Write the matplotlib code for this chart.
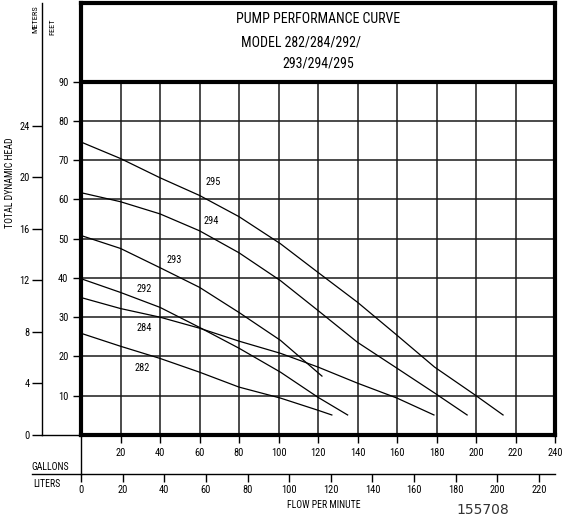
import matplotlib
matplotlib.use("Agg")
import matplotlib.pyplot as plt
from matplotlib import font_manager

# the original uses a condensed sans; take whichever narrow face is installed
narrow = [f for f in font_manager.fontManager.ttflist
          if ('Narrow' in f.name or 'Condensed' in f.name or f.stretch in ('condensed', 'semi-condensed'))
          and f.style == 'normal' and f.weight in (400, 'normal', 'regular')]
pref = ['Roboto Condensed', 'Liberation Sans Narrow', 'DejaVu Sans Condensed', 'DejaVu Sans']
narrow.sort(key=lambda f: pref.index(f.name) if f.name in pref else 99)
if narrow:
    plt.rcParams['font.family'] = [narrow[0].name, 'DejaVu Sans']
    plt.rcParams['font.stretch'] = narrow[0].stretch
else:
    plt.rcParams['font.family'] = ['DejaVu Sans']

# flow in gallons per minute, total dynamic head in feet
models = ['282', '284', '292', '293', '294', '295']
gpm_282 = [0, 20, 40, 60, 80, 101, 120, 127]
head_282 = [25.9, 22.6, 19.5, 16.0, 12.2, 9.4, 6.3, 5.1]
gpm_284 = [0, 20, 40, 60, 80, 101, 120, 140, 160, 178.7]
head_284 = [35.0, 32.2, 30.0, 27.2, 23.9, 20.8, 17.3, 13.2, 9.4, 5.1]
gpm_292 = [0, 20, 40, 60, 80, 101, 120, 135]
head_292 = [39.8, 36.3, 32.5, 27.4, 22.1, 16.0, 9.6, 5.1]
gpm_293 = [0, 20, 40, 60, 80, 101, 122]
head_293 = [50.8, 47.5, 42.6, 37.6, 31.2, 24.1, 15.0]
gpm_294 = [0, 20, 40, 60, 80, 101, 120, 140, 160, 179, 195.5]
head_294 = [61.7, 59.4, 56.3, 52.0, 46.4, 39.3, 31.7, 23.6, 17.0, 10.7, 5.1]
gpm_295 = [0, 20, 40, 60, 80, 101, 120, 140, 160, 179, 199.5, 213.7]
head_295 = [74.6, 70.4, 65.5, 61.0, 55.6, 48.7, 41.4, 33.8, 25.4, 17.3, 10.2, 5.1]

gpm_series = [gpm_282, gpm_284, gpm_292, gpm_293, gpm_294, gpm_295]
head_series = [head_282, head_284, head_292, head_293, head_294, head_295]

# where the model numbers sit next to the curves
label_x = [31, 32, 32, 47, 66, 67]
label_y = [17, 27.2, 37.1, 44.5, 54.4, 64.3]

feet_ticks = [10, 20, 30, 40, 50, 60, 70, 80, 90]
meter_ticks = [0, 4, 8, 12, 16, 20, 24]
gallon_ticks = [20, 40, 60, 80, 100, 120, 140, 160, 180, 200, 220, 240]
liter_ticks = [0, 20, 40, 60, 80, 100, 120, 140, 160, 180, 200, 220]
liter_per_gal = 0.9486  # the way the printed liter scale lines up

W, H = 563, 518
fig = plt.figure(figsize=(W / 100, H / 100), dpi=100)
ax = fig.add_axes([81 / W, 83 / H, 474 / W, 432 / H])
ax.set_xlim(0, 240)
ax.set_ylim(0, 110)

def fx(x):
    return x / W

def fy(y):
    return 1 - y / H

# grid, only below the title box
for g in range(20, 240, 20):
    ax.plot([g, g], [0, 90], color='#1a1a1a', lw=1.1)
for f in range(10, 90, 10):
    ax.plot([0, 240], [f, f], color='#1a1a1a', lw=1.1)
ax.plot([0, 240], [90, 90], color='k', lw=3, solid_capstyle='butt')

for spine in ax.spines.values():
    spine.set_linewidth(3)

for gx, hy in zip(gpm_series, head_series):
    ax.plot(gx, hy, color='k', lw=0.9)
for m, lx, ly in zip(models, label_x, label_y):
    ax.text(lx, ly, m, fontsize=7.5, ha='center', va='center')

# title block
ax.text(120, 106, 'PUMP PERFORMANCE CURVE', fontsize=10, ha='center', va='center')
ax.text(111.6, 100, 'MODEL 282/284/292/', fontsize=10, ha='center', va='center')
ax.text(120.3, 94.6, '293/294/295', fontsize=10, ha='center', va='center')

# feet axis
ax.set_yticks(feet_ticks)
ax.set_yticklabels([str(t) for t in feet_ticks], fontsize=7.5)
ax.tick_params(axis='y', length=6, width=1, pad=3)

# gallons axis
ax.set_xticks(gallon_ticks)
ax.set_xticklabels([str(t) for t in gallon_ticks], fontsize=7.5)
ax.tick_params(axis='x', length=6, width=1, pad=3)

# meters axis
sec_y = ax.secondary_yaxis(-39 / 474, functions=(lambda f: f * 0.3048, lambda m: m / 0.3048))
sec_y.set_yticks(meter_ticks)
sec_y.set_yticklabels([str(t) for t in meter_ticks], fontsize=7.5)
sec_y.spines['left'].set_linewidth(1)
sec_y.tick_params(length=7, width=1, pad=2)
ax.plot([-39 / 474, 0], [0, 0], transform=ax.transAxes, color='k', lw=1, clip_on=False)

# liters axis
ly_ax = (435 - 474) / 432
sec_x = ax.secondary_xaxis(ly_ax, functions=(lambda g: g * liter_per_gal, lambda l: l / liter_per_gal))
sec_x.set_xticks(liter_ticks)
sec_x.set_xticklabels([str(t) for t in liter_ticks], fontsize=7.5)
sec_x.spines['bottom'].set_linewidth(1)
sec_x.tick_params(length=6, width=1, pad=2)
ax.plot([-49 / 474, 0], [ly_ax, ly_ax], transform=ax.transAxes, color='k', lw=1, clip_on=False)
ax.plot([0, 0], [0, ly_ax], transform=ax.transAxes, color='k', lw=1, clip_on=False)

fig.text(fx(35), fy(19), 'METERS', rotation=90, fontsize=6, ha='center', va='center')
fig.text(fx(52), fy(27), 'FEET', rotation=90, fontsize=6, ha='center', va='center')
fig.text(fx(10), fy(183), 'TOTAL DYNAMIC HEAD', rotation=90, fontsize=7, ha='center', va='center')
fig.text(fx(31), fy(467), 'GALLONS', fontsize=7, ha='left', va='center')
fig.text(fx(33), fy(484), 'LITERS', fontsize=7, ha='left', va='center')
fig.text(fx(324), fy(505), 'FLOW PER MINUTE', fontsize=7, ha='center', va='center')
fig.text(fx(483), fy(510), '155708', fontsize=10, ha='center', va='center',
         family='DejaVu Sans', stretch='normal', color='#333333')

fig.savefig('out.png', dpi=100)
